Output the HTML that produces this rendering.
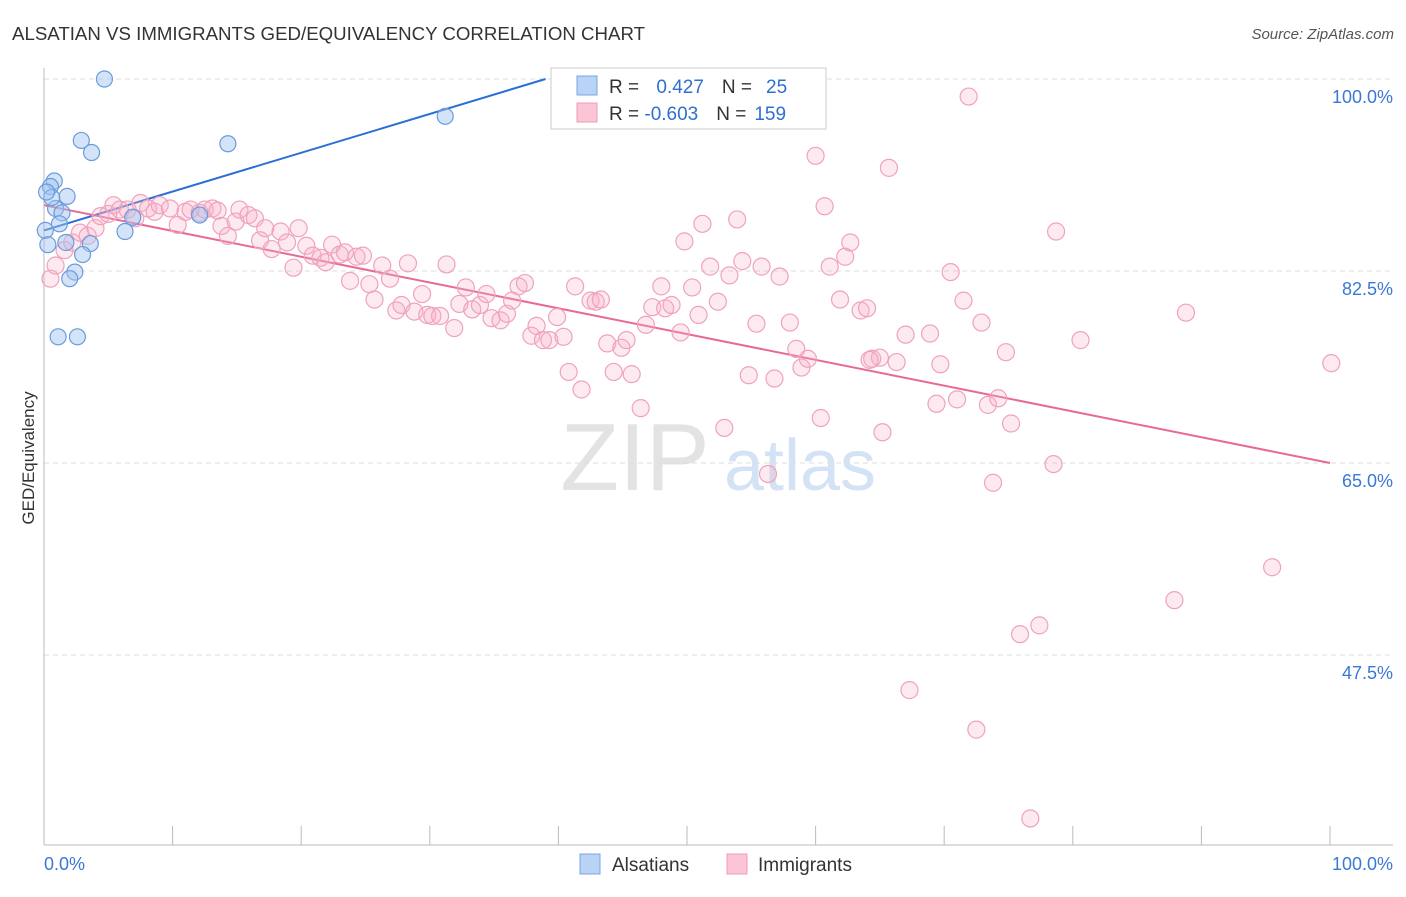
<!DOCTYPE html>
<html><head><meta charset="utf-8"><style>
body{margin:0;background:#fff;font-family:"Liberation Sans",sans-serif;}
svg text{font-family:"Liberation Sans",sans-serif;}
</style></head><body>
<svg id="chart" width="1406" height="892" xmlns="http://www.w3.org/2000/svg">
<text x="12" y="40" font-size="18" fill="#333" textLength="633" lengthAdjust="spacingAndGlyphs">ALSATIAN VS IMMIGRANTS GED/EQUIVALENCY CORRELATION CHART</text>
<text x="1394" y="39" font-size="15" fill="#555" text-anchor="end" font-style="italic">Source: ZipAtlas.com</text>
<text transform="translate(34,458) rotate(-90)" font-size="17" fill="#333" text-anchor="middle">GED/Equivalency</text>
<g><text x="635" y="490" font-size="96" fill="#ddd" font-family="Liberation Serif" text-anchor="middle" opacity="0.8">ZIP</text><text x="800" y="490" font-size="72" fill="#c9dcf2" text-anchor="middle" opacity="0.8">atlas</text></g>
<g id="grid"></g><g id="axes"></g><g id="lines"></g><g id="pts"></g>
<g>
<rect x="551" y="68" width="275" height="61" fill="#fff" stroke="#ccc"/>
<rect x="577" y="76" width="20" height="19" fill="#b8d3f5" stroke="#7aa7e0"/>
<rect x="577" y="103" width="20" height="19" fill="#fac6d6" stroke="#f09ab4"/>
<text x="609" y="93" font-size="19" fill="#333">R = <tspan fill="#2f6fd0" dx="12">0.427</tspan><tspan dx="18" fill="#333">N =</tspan><tspan dx="14" fill="#2f6fd0">25</tspan></text>
<text x="609" y="120" font-size="19" fill="#333">R = <tspan fill="#2f6fd0">-0.603</tspan><tspan dx="18" fill="#333">N =</tspan><tspan dx="8" fill="#2f6fd0">159</tspan></text>
</g>
<g>
<rect x="580" y="854" width="20" height="20" fill="#b8d3f5" stroke="#7aa7e0"/>
<text x="612" y="871" font-size="19" fill="#333">Alsatians</text>
<rect x="727" y="854" width="20" height="20" fill="#fac6d6" stroke="#f09ab4"/>
<text x="758" y="871" font-size="19" fill="#333">Immigrants</text>
</g>
</svg>
<script>
const yTicks=[100,82.5,65,47.5];
const yTickLabels=["100.0%","82.5%","65.0%","47.5%"];
const xTickLabels=["0.0%","100.0%"];
const blueX=[4.7,2.9,3.7,14.3,31.2,0.8,0.5,1.8,0.9,1.4,1.2,0.1,6.3,1.7,3.6,3.0,2.4,2.0,1.1,2.6,12.1,6.9,0.3,0.6,0.2];
const blueY=[100,94.4,93.3,94.1,96.6,90.7,90.2,89.3,88.2,87.8,86.8,86.2,86.1,85.1,85.0,84.0,82.4,81.8,76.5,76.5,87.6,87.4,84.9,89.2,89.7];
const pinkX=[0.5,0.9,1.6,2.2,2.8,3.4,4.0,4.4,5.0,5.4,5.9,6.5,7.1,7.5,8.1,8.6,9.0,9.8,10.4,11.0,11.4,12.1,12.5,13.1,13.5,13.8,14.3,14.9,15.2,15.9,16.4,16.8,17.2,17.7,18.4,18.9,19.4,19.8,20.4,20.9,21.5,21.9,22.4,23.0,23.4,23.8,24.3,24.8,25.3,25.7,26.3,26.9,27.4,27.8,28.3,28.8,29.4,29.8,30.2,30.8,31.3,31.9,32.3,32.8,33.3,33.9,34.4,34.8,35.5,36.0,36.4,36.9,37.4,37.9,38.3,38.8,39.3,39.9,40.4,40.8,41.3,41.8,42.5,42.9,43.3,43.8,44.3,44.9,45.3,45.7,46.4,46.8,47.3,48.0,48.3,48.8,49.5,49.8,50.4,50.9,51.2,51.8,52.4,52.9,53.3,53.9,54.3,54.8,55.4,55.8,56.3,56.8,57.2,58.0,58.5,58.9,59.4,60.0,60.4,60.7,61.1,61.9,62.3,62.7,63.5,64.0,64.4,65.0,65.2,65.7,66.3,67.0,67.3,68.9,69.4,69.7,70.5,71.0,71.5,71.9,72.9,73.4,73.8,74.2,74.8,75.2,75.9,77.4,78.5,78.7,80.6,76.7,72.5,87.9,88.8,95.5,100.1,64.2];
const pinkY=[81.8,83.0,84.4,85.1,86.0,85.7,86.4,87.5,87.7,88.5,88.1,88.1,87.3,88.7,88.2,87.9,88.5,88.2,86.7,87.9,88.1,87.8,88.1,88.2,88.0,86.6,85.7,87.0,88.1,87.6,87.3,85.3,86.4,84.5,86.1,85.1,82.8,86.4,84.8,83.9,83.7,83.3,84.9,84.0,84.2,81.6,83.8,83.9,81.3,79.9,83.0,81.8,78.9,79.4,83.2,78.8,80.4,78.5,78.4,78.4,83.1,77.3,79.5,81.0,79.0,79.4,80.4,78.2,78.0,78.6,79.8,81.1,81.4,76.6,77.5,76.2,76.2,78.3,76.5,73.3,81.1,71.7,79.8,79.7,79.9,75.9,73.3,75.5,76.2,73.1,70.0,77.6,79.2,81.1,79.1,79.4,76.9,85.2,81.0,78.5,86.8,82.9,79.7,68.2,82.1,87.2,83.4,73.0,77.7,82.9,64.0,72.7,82.0,77.8,75.4,73.7,74.5,93.0,69.1,88.4,82.9,79.9,83.8,85.1,78.9,79.1,74.5,74.6,67.8,91.9,74.2,76.7,44.3,76.8,70.4,74.0,82.4,70.8,79.8,98.4,77.8,70.3,63.2,70.9,75.1,68.6,49.4,50.2,64.9,86.1,76.2,32.6,40.7,52.5,78.7,55.5,74.1,74.4];
const blueLineX=[0,39.0];const blueLineY=[86.2,100];
const pinkLineX=[0,100];const pinkLineY=[88.5,65.0];
const NS="http://www.w3.org/2000/svg";
const sx=v=>44+v*12.86;
const sy=v=>79+(100-v)*192/17.5;
function mk(tag,attrs,parent){const e=document.createElementNS(NS,tag);for(const k in attrs)e.setAttribute(k,attrs[k]);document.getElementById(parent).appendChild(e);return e;}
yTicks.forEach((t,i)=>{
 const g=mk('line',{x1:44,x2:1393,y1:sy(t),y2:sy(t),stroke:'#ddd','stroke-dasharray':'5,4'},'grid');
 
 
 const tx=mk('text',{x:1393,y:sy(t)+24,'font-size':18,fill:'#3a78d6','text-anchor':'end'},'grid');
 tx.textContent=yTickLabels[i];
 
 
});
const ax=mk('line',{x1:44,x2:44,y1:68,y2:845,stroke:'#bbb'},'axes');


const bx=mk('line',{x1:44,x2:1393,y1:845,y2:845,stroke:'#bbb'},'axes');


for(let i=0;i<=10;i++){const t=mk('line',{x1:sx(i*10),x2:sx(i*10),y1:826,y2:845,stroke:'#bbb'},'axes');
 
 }
[[0,'start'],[100,'end']].forEach((p,i)=>{const t=mk('text',{x:i?1393:44,y:870,'font-size':18,fill:'#3a78d6','text-anchor':p[1]},'axes');t.textContent=xTickLabels[i];
 
 });
const bl=mk('line',{x1:sx(blueLineX[0]),y1:sy(blueLineY[0]),x2:sx(blueLineX[1]),y2:sy(blueLineY[1]),stroke:'#2a6fd6','stroke-width':2},'lines');


const pl=mk('line',{x1:sx(pinkLineX[0]),y1:sy(pinkLineY[0]),x2:sx(pinkLineX[1]),y2:sy(pinkLineY[1]),stroke:'#e8689a','stroke-width':2},'lines');


pinkX.forEach((x,i)=>{const c=mk('circle',{cx:sx(x),cy:sy(pinkY[i]),r:8.5,fill:'rgba(248,175,200,0.28)',stroke:'#f0a2bc','stroke-width':1.2},'pts');
 
 });
blueX.forEach((x,i)=>{const c=mk('circle',{cx:sx(x),cy:sy(blueY[i]),r:8,fill:'rgba(160,195,240,0.45)',stroke:'#6b9bdc','stroke-width':1.2},'pts');
 
 });
</script>
</body></html>
